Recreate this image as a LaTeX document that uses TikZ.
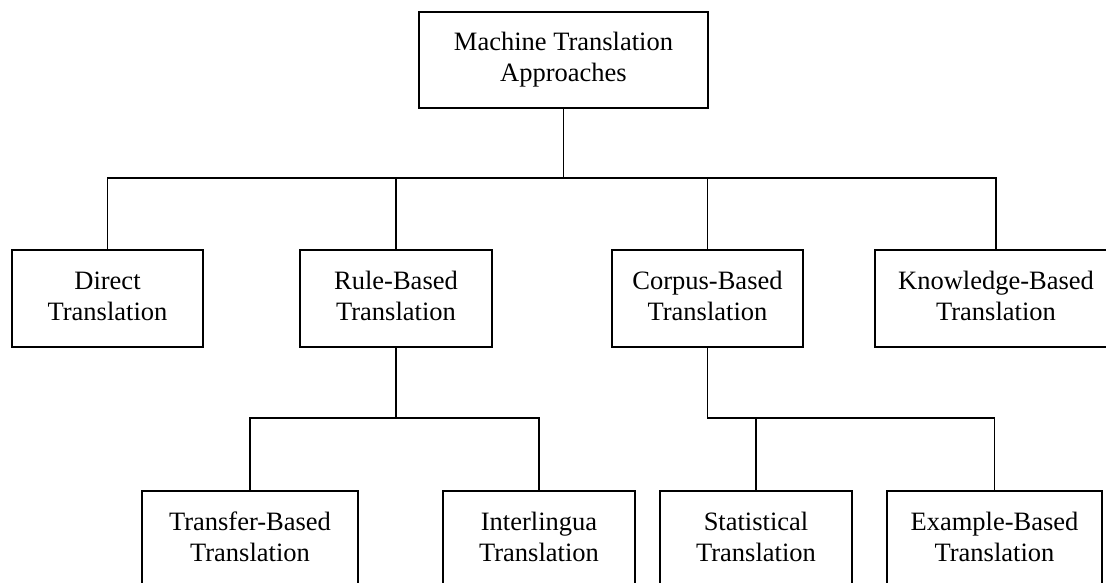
\documentclass[tikz,border=0pt]{standalone}
\usepackage{fontspec}
\setmainfont{Liberation Serif}
% two centred lines, raised slightly inside the box
\newcommand{\twolines}[2]{\raisebox{2pt}{\begin{tabular}{@{}c@{}}#1\\#2\end{tabular}}}
\begin{document}
\begin{tikzpicture}[x=1pt,y=1pt,
  box/.style={draw, line width=1.8pt, rectangle, inner sep=0pt,
    font=\fontsize{26.5}{31}\selectfont},
  link/.style={line width=1.8pt}]
\useasboundingbox (0,0) rectangle (1106,-582);
\clip (0,0) rectangle (1106,-582);
% root
\node[box, minimum width=289, minimum height=96] (top) at (563.5,-60) {\twolines{Machine Translation}{Approaches}};
% second level
\node[box, minimum width=191, minimum height=97] (direct) at (107.5,-298.5) {\twolines{Direct}{Translation}};
\node[box, minimum width=192, minimum height=97] (rule) at (396,-298.5) {\twolines{Rule-Based}{Translation}};
\node[box, minimum width=191, minimum height=97] (corpus) at (707.5,-298.5) {\twolines{Corpus-Based}{Translation}};
\node[box, minimum width=242, minimum height=97] (know) at (996,-298.5) {\twolines{Knowledge-Based}{Translation}};
% third level
\node[box, minimum width=216, minimum height=97] (transfer) at (250,-539.5) {\twolines{Transfer-Based}{Translation}};
\node[box, minimum width=192, minimum height=97] (inter) at (539,-539.5) {\twolines{Interlingua}{Translation}};
\node[box, minimum width=192, minimum height=97] (stat) at (756,-539.5) {\twolines{Statistical}{Translation}};
\node[box, minimum width=215, minimum height=97] (example) at (994.5,-539.5) {\twolines{Example-Based}{Translation}};
% bus lines
\coordinate (busA) at (0,-178);
\coordinate (busB) at (0,-418);
\draw[link] (top.south) -- (top.south |- busA);
\draw[link] (direct.north) -- (direct.north |- busA) -- (know.north |- busA) -- (know.north);
\draw[link] (rule.north) -- (rule.north |- busA);
\draw[link] (corpus.north) -- (corpus.north |- busA);
\draw[link] (rule.south) -- (rule.south |- busB);
\draw[link] (transfer.north) -- (transfer.north |- busB) -- (inter.north |- busB) -- (inter.north);
\draw[link] (corpus.south) -- (corpus.south |- busB) -- (example.north |- busB) -- (example.north);
\draw[link] (stat.north) -- (stat.north |- busB);
\end{tikzpicture}
\end{document}
